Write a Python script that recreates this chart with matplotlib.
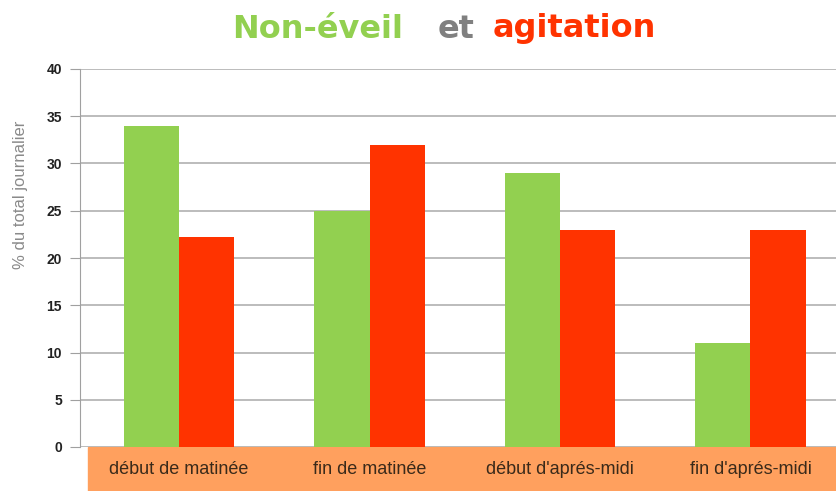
import matplotlib
matplotlib.use("Agg")
import matplotlib.pyplot as plt
from matplotlib.patches import Rectangle
import numpy as np

# data
categories = ["début de matinée", "fin de matinée", "début d'aprés-midi", "fin d'aprés-midi"]
non_eveil = [34, 25, 29, 11]
agitation = [22.2, 32, 23, 23]
yticks = [0, 5, 10, 15, 20, 25, 30, 35, 40]

green = "#92D050"
red = "#FF3300"
W, H = 836, 491

fig = plt.figure(figsize=(W / 100, H / 100), dpi=100)
ax = fig.add_axes([80 / W, 44 / H, (W - 80) / W, (447 - 69) / H])

x = np.arange(len(categories))
bw = 0.29
ax.bar(x - bw / 2, non_eveil, bw, color=green, zorder=3)
ax.bar(x + bw / 2, agitation, bw, color=red, zorder=3)

ax.set_xlim(-0.52, 3.449)
ax.set_ylim(0, 40)
ax.set_yticks(yticks)
ax.yaxis.grid(True, color="#b0b0b0", linewidth=1.2, zorder=0)
ax.set_axisbelow(True)
for s in ["top", "right", "bottom"]:
    ax.spines[s].set_visible(False)
ax.spines["left"].set_color("#a0a0a0")
ax.tick_params(axis="y", length=7, color="#a0a0a0", pad=6)
for lab in ax.get_yticklabels():
    lab.set_fontfamily("Liberation Sans")
    lab.set_fontweight("bold")
    lab.set_fontsize(10)
    lab.set_color("#222222")

ax.set_xticks(x)
ax.set_xticklabels(categories, fontsize=13, color="#3a2a1a", family="Liberation Sans")
ax.tick_params(axis="x", length=0, pad=10)

ax.set_ylabel("% du total journalier", fontsize=12, color="#8a8a8a",
              family="Liberation Sans")
ax.yaxis.set_label_coords(-52 / 756, 0.667)

# orange category band under the axis
ax.add_patch(Rectangle((88 / W, 0), (W - 88) / W, 44 / H,
                       transform=fig.transFigure, color="#FFA05E", zorder=-5, clip_on=False))

ty = 1 - 29 / H
fs = 23
fig.text(232 / W, ty, "Non-éveil", color=green, fontsize=fs, fontweight="bold",
         family="DejaVu Sans", va="center")
fig.text(438 / W, ty, "et", color="#808080", fontsize=fs, fontweight="bold",
         family="DejaVu Sans", va="center")
fig.text(493 / W, ty, "agitation", color=red, fontsize=fs, fontweight="bold",
         family="DejaVu Sans", va="center")

fig.savefig("out.png", dpi=100)
